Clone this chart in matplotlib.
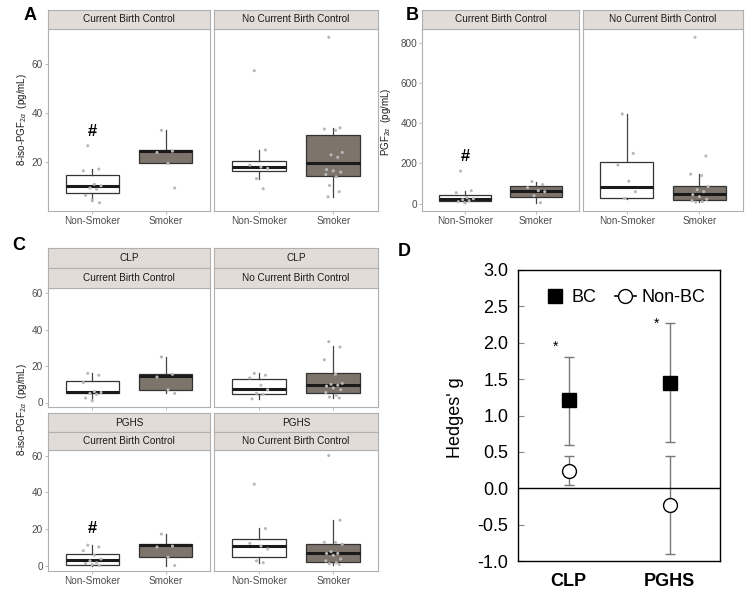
import numpy as np
import matplotlib
matplotlib.use('Agg')
from matplotlib import pyplot as plt

plt.rcParams['font.family'] = ['Liberation Sans', 'DejaVu Sans']
plt.rcParams['mathtext.fontset'] = 'custom'
plt.rcParams['mathtext.rm'] = 'Liberation Sans'
plt.rcParams['mathtext.it'] = 'Liberation Sans:italic'

W, H = 755, 603
groups = ['Non-Smoker', 'Smoker']
bc_strips = ['Current Birth Control', 'No Current Birth Control']

# ---- panel A : 8-iso-PGF2a (pg/mL) ----
A_bc_ns = [26.7, 17.2, 16.5, 11, 10.4, 9.5, 9, 6.5, 4.5, 3.5]
A_bc_s = [33, 24.5, 24, 19.5, 9.5]
A_nbc_ns = [57.3, 25, 18.8, 18, 17.5, 13.3, 9.2]
A_nbc_s = [70.9, 34, 33.5, 33, 24, 23, 22, 17, 16.5, 16, 15, 14, 10.5, 8, 5.9]
# whislo, q1, median, q3, whishi
A_bc_ns_box = [4.4, 7.5, 10.4, 14.7, 17.2]
A_bc_s_box = [19.5, 19.5, 24.5, 24.9, 33]
A_nbc_ns_box = [13.3, 16.5, 17.9, 20.5, 25]
A_nbc_s_box = [5.9, 14.5, 19.7, 30.9, 34]

# ---- panel B : PGF2a (pg/mL) ----
B_bc_ns = [162, 65, 55, 30, 25, 20, 15, 10, 5]
B_bc_s = [110, 95, 80, 65, 60, 40, 5]
B_nbc_ns = [446, 250, 192, 112, 60, 26]
B_nbc_s = [827, 237, 147, 140, 85, 70, 60, 45, 35, 22, 15, 10, 8]
B_bc_ns_box = [5, 13, 22, 42, 65]
B_bc_s_box = [5, 33, 65, 88, 110]
B_nbc_ns_box = [26, 29, 85, 208, 446]
B_nbc_s_box = [8, 21, 48, 90, 147]

# ---- panel C : 8-iso-PGF2a by pathway ----
C_clp_bc_ns = [16, 15, 11, 6, 5.5, 5, 4.5, 2.5, 1]
C_clp_bc_s = [25, 15.5, 14, 7, 5]
C_clp_nbc_ns = [16, 15, 13.5, 9.5, 7, 5, 4.5, 2]
C_clp_nbc_s = [33.5, 30.5, 23.5, 15.5, 10.5, 10, 9.5, 9, 8, 7, 5.5, 4, 3, 2.5]
C_clp_bc_ns_box = [1, 5.1, 5.9, 12, 16]
C_clp_bc_s_box = [5, 7, 14.4, 15.7, 25]
C_clp_nbc_ns_box = [2, 4.8, 7.3, 13, 16]
C_clp_nbc_s_box = [2.4, 5.5, 9.9, 16.3, 30.9]

C_pghs_bc_ns = [11.5, 10.5, 8.5, 6, 4, 3, 2, 1.5, 1, 0.5]
C_pghs_bc_s = [17.5, 11, 10.5, 5, 0.5]
C_pghs_nbc_ns = [44.5, 20.5, 12.5, 11, 9.5, 3, 2]
C_pghs_nbc_s = [60, 25, 13, 13, 12, 8, 7, 7, 6, 4, 3, 2, 1.5, 1]
C_pghs_bc_ns_box = [0.5, 0.9, 3.6, 6.6, 11.4]
C_pghs_bc_s_box = [0.5, 5.2, 11.4, 12.4, 17.7]
C_pghs_nbc_ns_box = [2, 5, 11, 15.1, 20.7]
C_pghs_nbc_s_box = [1, 2.3, 7.2, 12.4, 25.2]

# significance marks (#) in the non-smoker / birth control facet
hash_A, hash_B, hash_C = 32.5, 237, 20.5

# ---- panel D : Hedges' g ----
D_cats = ['CLP', 'PGHS']
D_bc = [1.21, 1.45]
D_bc_lo = [0.60, 0.63]
D_bc_hi = [1.80, 2.27]
D_nbc = [0.24, -0.23]
D_nbc_lo = [0.05, -0.90]
D_nbc_hi = [0.45, 0.45]
D_star_y = [1.95, 2.26]

jitter = [-0.06, 0.09, -0.12, 0.03, 0.12, -0.03, 0.06, -0.09, 0.0, 0.1,
          -0.1, 0.04, -0.05, 0.08, -0.07]

fill_cols = ['white', '#7d746c']
strip_col = '#e2dcd8'
edge_gray = '#b0b0b0'
txt_gray = '#4d4d4d'


def px_axes(fig, x0, y0, x1, y1):
    return fig.add_axes([x0 / W, 1 - y1 / H, (x1 - x0) / W, (y1 - y0) / H])


def strip(fig, x0, y0, x1, y1, label):
    s = px_axes(fig, x0, y0, x1, y1)
    s.set_facecolor(strip_col)
    s.set_xticks([])
    s.set_yticks([])
    for sp in s.spines.values():
        sp.set_color(edge_gray)
        sp.set_linewidth(0.8)
    s.text(0.5, 0.5, label, ha='center', va='center', fontsize=7.2,
           color='#1a1a1a', transform=s.transAxes)


def facet(ax, ns, s, ns_box, s_box, ylim, yticks, show_y, show_x):
    stats = []
    for b, g in zip([ns_box, s_box], groups):
        stats.append(dict(whislo=b[0], q1=b[1], med=b[2], q3=b[3], whishi=b[4], label=g))
    bp = ax.bxp(stats, positions=[1, 2], widths=0.72, showfliers=False,
                showcaps=False, patch_artist=True,
                boxprops=dict(edgecolor='#333333', linewidth=0.9),
                medianprops=dict(color='#1a1a1a', linewidth=2.2),
                whiskerprops=dict(color='#444444', linewidth=0.9))
    for patch, c in zip(bp['boxes'], fill_cols):
        patch.set_facecolor(c)
    for pos, vals in zip([1, 2], [ns, s]):
        xs = pos + np.array(jitter[:len(vals)])
        ax.scatter(xs, vals, s=5, color='#b8b8b8', edgecolors='none', zorder=4)
    ax.set_xlim(0.4, 2.6)
    ax.set_ylim(*ylim)
    for sp in ax.spines.values():
        sp.set_color(edge_gray)
        sp.set_linewidth(0.8)
    ax.tick_params(colors=edge_gray, labelcolor=txt_gray, labelsize=7.2,
                   length=2, width=0.6, pad=1.5)
    ax.set_xticks([1, 2])
    ax.set_xticklabels(groups if show_x else [])
    ax.set_yticks(yticks)
    if show_y:
        ax.set_yticklabels([str(t) for t in yticks])
    else:
        ax.tick_params(axis='y', length=0)
        ax.set_yticklabels([])


def limits(*arrs):
    allv = np.concatenate([np.asarray(a, float) for a in arrs])
    lo, hi = allv.min(), allv.max()
    pad = 0.05 * (hi - lo)
    return lo - pad, hi + pad


fig = plt.figure(figsize=(W / 100, H / 100), dpi=100)

# ---------- A ----------
ylimA = limits(A_bc_ns, A_bc_s, A_nbc_ns, A_nbc_s)
axA1 = px_axes(fig, 48, 29, 210, 211)
facet(axA1, A_bc_ns, A_bc_s, A_bc_ns_box, A_bc_s_box, ylimA, [20, 40, 60], True, True)
axA1.text(1, hash_A, '#', ha='center', va='center', fontsize=12, fontweight='bold')
axA2 = px_axes(fig, 214, 29, 378, 211)
facet(axA2, A_nbc_ns, A_nbc_s, A_nbc_ns_box, A_nbc_s_box, ylimA, [20, 40, 60], False, True)
strip(fig, 48, 10, 210, 29, bc_strips[0])
strip(fig, 214, 10, 378, 29, bc_strips[1])
fig.text(22 / W, 1 - 120 / H, r'8-iso-PGF$_{2\alpha}$  (pg/mL)', rotation=90,
         ha='center', va='center', fontsize=7, color='#1a1a1a')

# ---------- B ----------
ylimB = limits(B_bc_ns, B_bc_s, B_nbc_ns, B_nbc_s)
bt = [0, 200, 400, 600, 800]
axB1 = px_axes(fig, 422, 29, 579, 211)
facet(axB1, B_bc_ns, B_bc_s, B_bc_ns_box, B_bc_s_box, ylimB, bt, True, True)
axB1.text(1, hash_B, '#', ha='center', va='center', fontsize=12, fontweight='bold')
axB2 = px_axes(fig, 583, 29, 743, 211)
facet(axB2, B_nbc_ns, B_nbc_s, B_nbc_ns_box, B_nbc_s_box, ylimB, bt, False, True)
strip(fig, 422, 10, 579, 29, bc_strips[0])
strip(fig, 583, 10, 743, 29, bc_strips[1])
fig.text(386 / W, 1 - 122 / H, r'PGF$_{2\alpha}$  (pg/mL)', rotation=90,
         ha='center', va='center', fontsize=7, color='#1a1a1a')

# ---------- C ----------
ylimC = limits(C_clp_bc_ns, C_clp_bc_s, C_clp_nbc_ns, C_clp_nbc_s,
               C_pghs_bc_ns, C_pghs_bc_s, C_pghs_nbc_ns, C_pghs_nbc_s)
ct = [0, 20, 40, 60]
rows = [
    ('CLP', 288, 407, 248, 268,
     (C_clp_bc_ns, C_clp_bc_s, C_clp_bc_ns_box, C_clp_bc_s_box),
     (C_clp_nbc_ns, C_clp_nbc_s, C_clp_nbc_ns_box, C_clp_nbc_s_box), False),
    ('PGHS', 450, 571, 413, 432,
     (C_pghs_bc_ns, C_pghs_bc_s, C_pghs_bc_ns_box, C_pghs_bc_s_box),
     (C_pghs_nbc_ns, C_pghs_nbc_s, C_pghs_nbc_ns_box, C_pghs_nbc_s_box), True),
]
for name, py0, py1, sy0, sy1, left, right, showx in rows:
    ax1 = px_axes(fig, 48, py0, 210, py1)
    facet(ax1, *left, ylimC, ct, True, showx)
    ax2 = px_axes(fig, 214, py0, 378, py1)
    facet(ax2, *right, ylimC, ct, False, showx)
    if name == 'PGHS':
        ax1.text(1, hash_C, '#', ha='center', va='center', fontsize=12, fontweight='bold')
    for x0, x1, lab in [(48, 210, bc_strips[0]), (214, 378, bc_strips[1])]:
        strip(fig, x0, sy0, x1, sy1, name)
        strip(fig, x0, sy1, x1, py0, lab)
fig.text(22 / W, 1 - 410 / H, r'8-iso-PGF$_{2\alpha}$  (pg/mL)', rotation=90,
         ha='center', va='center', fontsize=7, color='#1a1a1a')

# ---------- D ----------
axD = px_axes(fig, 518, 270, 720, 561)
xpos = np.arange(1, len(D_cats) + 1)
bc_err = [np.array(D_bc) - np.array(D_bc_lo), np.array(D_bc_hi) - np.array(D_bc)]
nbc_err = [np.array(D_nbc) - np.array(D_nbc_lo), np.array(D_nbc_hi) - np.array(D_nbc)]
axD.errorbar(xpos, D_bc, yerr=bc_err, fmt='none', ecolor='#777777', elinewidth=1,
             capsize=3.5, capthick=1, zorder=2)
axD.errorbar(xpos, D_nbc, yerr=nbc_err, fmt='none', ecolor='#777777', elinewidth=1,
             capsize=3.5, capthick=1, zorder=2)
axD.plot(xpos, D_bc, 's', color='black', markersize=10, linestyle='none',
         label='BC', zorder=3)
axD.plot(xpos, D_nbc, 'o', markerfacecolor='white', markeredgecolor='black',
         markeredgewidth=1, markersize=10, linestyle='none', zorder=3)
axD.plot([], [], '-o', color='black', markerfacecolor='white', markersize=10,
         markeredgewidth=1, linewidth=1.2, label='Non-BC')
for xp, sy in zip(xpos, D_star_y):
    axD.text(xp - 0.13, sy, '*', ha='center', va='center', fontsize=10)
axD.axhline(0, color='black', linewidth=1)
axD.set_xlim(0.5, 2.5)
axD.set_ylim(-1.0, 3.0)
yt = np.arange(-1.0, 3.01, 0.5)
axD.set_yticks(yt)
axD.set_yticklabels(['%.1f' % v for v in yt])
axD.set_xticks(xpos)
axD.set_xticklabels(D_cats, fontweight='bold')
axD.tick_params(axis='y', direction='in', length=4, color='#888888', labelsize=13, pad=7)
axD.tick_params(axis='x', length=0, labelsize=13, pad=9)
for sp in axD.spines.values():
    sp.set_linewidth(1)
axD.legend(loc='upper center', bbox_to_anchor=(0.53, 0.99), ncol=2, frameon=False,
           fontsize=13, handlelength=1.2, handletextpad=0.3, columnspacing=1.0)
fig.text(455 / W, 1 - 418 / H, "Hedges' g", rotation=90, ha='center', va='center',
         fontsize=13)

# panel letters
for lab, x, y in [('A', 30, 15), ('B', 412, 15), ('C', 19, 246), ('D', 404, 252)]:
    fig.text(x / W, 1 - y / H, lab, ha='center', va='center', fontsize=13,
             fontweight='bold')

fig.savefig('out.png', dpi=100)
